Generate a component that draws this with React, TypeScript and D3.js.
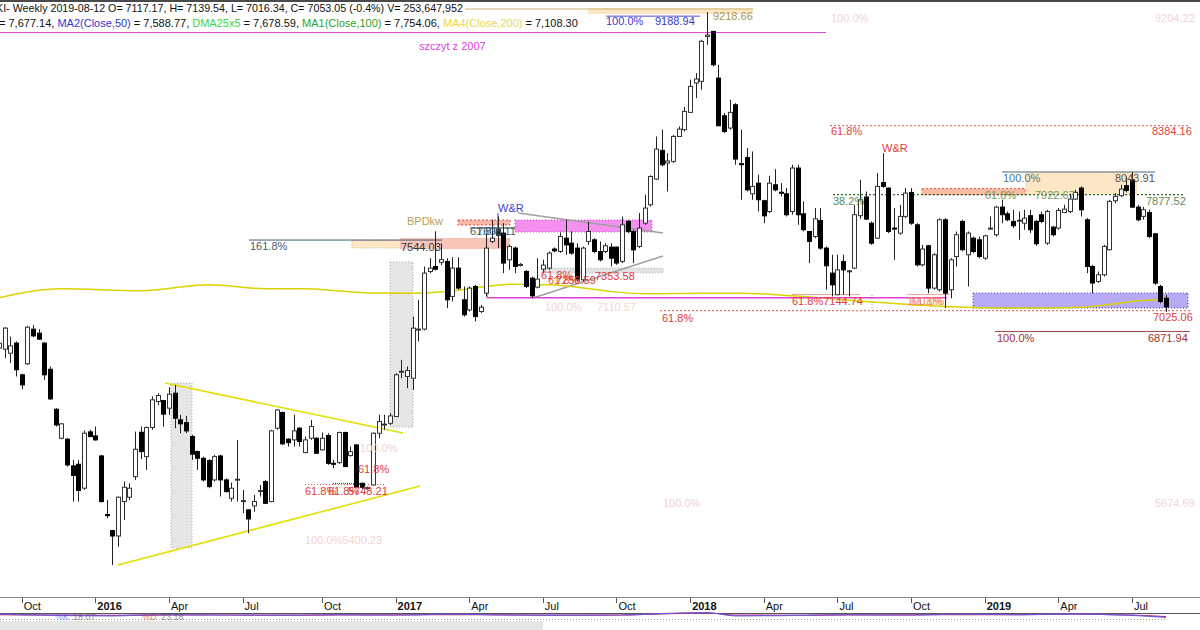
import React from 'react';
import * as d3 from 'd3';

// ---------- DATA (weekly bars, oldest first; first bar week of 2015-08-31, last 2019-08-12) ----------
const FIRST_WEEK = Date.UTC(2015, 7, 31);

const opens = [
  6750, 6742, 6713, 6787, 6554, 6635, 6889, 6860, 6787, 6595,
  6301, 6088, 6081, 5885, 5897, 5721, 6135, 6105, 5958, 5527,
  5410, 5370, 5623, 5655, 5806, 6132, 5953, 6167, 6358, 6365,
  6309, 6419, 6223, 6203, 6100, 5990, 5941, 5924, 5782, 5958,
  5782, 5647, 5782, 5623, 5562, 5591, 5700, 5770, 5623, 6162,
  6277, 6081, 6076, 6162, 5983, 6088, 6088, 6003, 6108, 5904,
  5909, 6130, 5961, 6039, 5757, 5720, 5745, 6125, 6186, 6198,
  6248, 6574, 6542, 6529, 6885, 6890, 7313, 7350, 7380, 7387,
  7130, 7338, 7105, 7031, 7203, 7019, 7154, 7534, 7620, 7595,
  7399, 7485, 7362, 7313, 7264, 7198, 7330, 7338, 7478, 7460,
  7558, 7521, 7485, 7252, 7534, 7546, 7460, 7460, 7492, 7492,
  7387, 7680, 7607, 7497, 7668, 7803, 7992, 8203, 8110, 8122,
  8305, 8355, 8482, 8698, 8710, 9040, 9077, 8734, 8457, 8367,
  8538, 8105, 8151, 7884, 7962, 7833, 7754, 7950, 7895, 7884,
  7754, 8073, 7737, 7607, 7570, 7688, 7485, 7301, 7142, 7387,
  7313, 7338, 7723, 7860, 7668, 7558, 7967, 7926, 7632, 7595,
  7718, 7894, 7656, 7362, 7502, 7191, 7179, 7693, 7179, 7423,
  7681, 7436, 7558, 7546, 7411, 7628, 7583, 7786, 7737, 7681,
  7686, 7668, 7723, 7681, 7730, 7522, 7639, 7632, 7747, 7754,
  7845, 7926, 7693, 7350, 7240, 7289, 7473, 7833, 7870, 7943,
  7987, 7786, 7718, 7747, 7590, 7203, 7117.17,
];

const highs = [
  6823, 6905, 6836, 6799, 6561, 6914, 6921, 6889, 6795, 6615,
  6309, 6200, 6090, 5929, 5929, 6145, 6150, 6174, 5965, 5635,
  5415, 5660, 5770, 5757, 6137, 6174, 6174, 6395, 6419, 6370,
  6463, 6480, 6260, 6252, 6113, 5998, 5953, 5934, 5966, 5966,
  5794, 5762, 6076, 5708, 5566, 5672, 5745, 5782, 6150, 6301,
  6284, 6088, 6260, 6168, 6100, 6223, 6096, 6130, 6125, 5929,
  6137, 6137, 6027, 6045, 5762, 5733, 6130, 6260, 6260, 6272,
  6566, 6664, 6615, 6982, 7105, 7350, 7411, 7608, 7520, 7411,
  7418, 7418, 7203, 7203, 7215, 7068, 7595, 7693, 7718, 7668,
  7510, 7497, 7375, 7325, 7276, 7411, 7400, 7460, 7490, 7600,
  7693, 7607, 7521, 7497, 7680, 7558, 7534, 7521, 7521, 7497,
  7717, 7693, 7620, 7742, 7877, 8020, 8305, 8355, 8183, 8318,
  8379, 8521, 8722, 8771, 9016, 9218.66, 9080, 8832, 8477, 8575,
  8550, 8355, 8220, 8195, 8024, 7840, 8016, 8065, 7962, 7926,
  8097, 8097, 7828, 7607, 7779, 7779, 7497, 7436, 7436, 7436,
  7325, 7803, 7987, 7901, 7680, 8036, 8183, 7930, 7779, 7803,
  7926, 7926, 7668, 7509, 7509, 7448, 7705, 7705, 7411, 7607,
  7693, 7607, 7570, 7570, 7583, 7717, 7796, 7840, 7754, 7766,
  7754, 7766, 7766, 7693, 7754, 7766, 7649, 7779, 7803, 7884,
  7913, 7938, 7705, 7362, 7313, 7509, 7840, 7889, 7950, 8011,
  8044, 7803, 7787, 7767, 7595, 7215, 7139.54,
];

const lows = [
  6627, 6676, 6640, 6542, 6448, 6627, 6831, 6811, 6517, 6370,
  6174, 6080, 5880, 5623, 5623, 5708, 6096, 6070, 5615, 5500,
  5157, 5292, 5488, 5635, 5782, 5934, 5855, 6150, 6333, 6174,
  6260, 6162, 6125, 6125, 5929, 5855, 5770, 5721, 5770, 5660,
  5689, 5623, 5623, 5537, 5390, 5549, 5660, 5606, 5618, 6150,
  6039, 6027, 6027, 6027, 5978, 6076, 5973, 5998, 5892, 5868,
  5900, 5875, 5953, 5720, 5715, 5708, 5740, 6088, 6150, 6186,
  6243, 6529, 6456, 6443, 6799, 6880, 7301, 7320, 7360, 7044,
  7093, 7178, 6982, 7019, 6946, 7007, 7130, 7522, 7485, 7301,
  7325, 7301, 7350, 7191, 7117, 7190, 7300, 7325, 7455, 7450,
  7436, 7436, 7240, 7240, 7509, 7448, 7387, 7448, 7350, 7362,
  7375, 7595, 7375, 7485, 7656, 7790, 7987, 8085, 7901, 8110,
  8301, 8342, 8477, 8587, 8648, 8979, 8820, 8379, 8330, 8355,
  8097, 7840, 7901, 7840, 7754, 7668, 7742, 7901, 7865, 7717,
  7730, 7656, 7607, 7375, 7558, 7472, 7179, 7130, 7142, 7142,
  7130, 7330, 7700, 7693, 7509, 7551, 7926, 7595, 7399, 7583,
  7705, 7656, 7350, 7350, 7154, 7179, 7166, 7044, 7117, 7350,
  7460, 7203, 7448, 7411, 7399, 7620, 7570, 7668, 7681, 7632,
  7546, 7620, 7595, 7502, 7668, 7509, 7570, 7620, 7742, 7742,
  7840, 7717, 7301, 7154, 7228, 7276, 7468, 7815, 7860, 7894,
  7779, 7681, 7693, 7558, 7215, 7080, 7016.34,
];

const closes = [
  6786, 6897, 6767, 6591, 6480, 6904, 6840, 6816, 6554, 6377,
  6186, 6194, 5892, 5814, 5704, 6125, 6100, 6076, 5623, 5520,
  5370, 5655, 5728, 5721, 6007, 5990, 6167, 6370, 6402, 6265,
  6412, 6235, 6194, 6142, 5971, 5941, 5782, 5733, 5953, 5782,
  5696, 5721, 5787, 5630, 5495, 5623, 5704, 5610, 6142, 6296,
  6047, 6056, 6142, 6064, 6076, 6174, 5978, 6088, 5904, 5900,
  6130, 5880, 5990, 5728, 5728, 5725, 6125, 6211, 6192, 6252,
  6554, 6580, 6586, 6897, 6890, 7301, 7338, 7330, 7400, 7105,
  7338, 7191, 6995, 7191, 6982, 7051, 7485, 7558, 7580, 7375,
  7497, 7350, 7365, 7203, 7134, 7257, 7360, 7448, 7465, 7570,
  7509, 7448, 7252, 7485, 7607, 7460, 7399, 7502, 7411, 7375,
  7656, 7607, 7472, 7632, 7779, 8011, 8212, 8097, 8125, 8305,
  8359, 8489, 8673, 8727, 9004, 9050, 8832, 8384, 8342, 8482,
  8139, 8100, 7913, 7938, 7840, 7722, 7962, 7913, 7893, 7730,
  8073, 7730, 7620, 7534, 7700, 7485, 7355, 7215, 7325, 7325,
  7318, 7730, 7840, 7698, 7521, 7938, 7938, 7607, 7628, 7718,
  7889, 7668, 7362, 7478, 7191, 7436, 7693, 7154, 7399, 7583,
  7473, 7595, 7460, 7423, 7575, 7632, 7786, 7730, 7693, 7649,
  7690, 7705, 7620, 7517, 7681, 7754, 7583, 7762, 7771, 7845,
  7894, 7766, 7350, 7228, 7289, 7497, 7828, 7865, 7918, 7909,
  7786, 7693, 7767, 7570, 7228, 7093, 7053.05,
];

// MA4(Close,200) values (bar index, value)
const maIndex = [0, 11, 25, 37, 47, 54, 65, 74, 79, 91, 97, 101, 108, 114, 124, 131, 140, 153, 161, 167, 179, 191, 197, 200, 206];
const maValue = [7120, 7186, 7171, 7215, 7186, 7186, 7156, 7153, 7166, 7220, 7215, 7203, 7166, 7149, 7154, 7154, 7134, 7093, 7068, 7056, 7044, 7051, 7076, 7093, 7108.30];

// lower stochastic panel (bar index, %K, %D)
const stIndex = [0, 10, 20, 30, 40, 50, 60, 70, 80, 90, 100, 110, 120, 125, 130, 140, 150, 160, 170, 180, 190, 200, 206];
const stK = [60, 45, 40, 55, 50, 45, 55, 50, 60, 50, 45, 50, 75, 80, 40, 45, 55, 50, 60, 55, 65, 45, 20];
const stD = [55, 50, 45, 50, 50, 48, 50, 52, 55, 52, 48, 50, 70, 75, 50, 45, 50, 52, 55, 55, 60, 50, 30];

const MONTHS = ['Jan', 'Feb', 'Mar', 'Apr', 'May', 'Jun', 'Jul', 'Aug', 'Sep', 'Oct', 'Nov', 'Dec'];

const FONT = 'Liberation Sans, Arial, sans-serif';

export default function App() {
  const W = 1200;
  const H = 630;
  const n = closes.length;
  const STEP = 5.665;
  const X_LAST = 1166;
  const x = d3.scaleLinear().domain([0, n - 1]).range([X_LAST - (n - 1) * STEP, X_LAST]);
  const y = d3.scaleLinear().domain([7025.06, 8384.16]).range([310.7, 125.7]);
  const DAY = 86400000;
  const dates = d3.range(n).map((i) => new Date(FIRST_WEEK + i * 7 * DAY));

  // quarter ticks: first bar whose Friday falls into a new quarter month
  const ticks: { i: number; label: string; bold: boolean }[] = [];
  for (let i = 1; i < n; i++) {
    const f = new Date(dates[i].getTime() + 4 * DAY);
    const pf = new Date(dates[i - 1].getTime() + 4 * DAY);
    const m = f.getUTCMonth();
    if (m !== pf.getUTCMonth() && m % 3 === 0) {
      ticks.push({ i, label: m === 0 ? String(f.getUTCFullYear()) : MONTHS[m], bold: m === 0 });
    }
  }

  const maLine = d3
    .line<number>()
    .x((d, k) => x(maIndex[k]))
    .y((d) => y(d))
    .curve(d3.curveMonotoneX)(maValue) as string;

  const sy = d3.scaleLinear().domain([0, 100]).range([619, 611]);
  const kLine = d3.line<number>().x((d, k) => x(stIndex[k])).y((d) => sy(d)).curve(d3.curveMonotoneX)(stK) as string;
  const dLine = d3.line<number>().x((d, k) => x(stIndex[k])).y((d) => sy(d)).curve(d3.curveMonotoneX)(stD) as string;

  const bw = 4;
  const faint = '#f3d3d3';
  const red = '#e23b3b';

  return (
    <svg width={W} height={H} style={{ position: 'absolute', left: 0, top: 0, background: '#fff' }} fontFamily={FONT}>
      <defs>
        <clipPath id="plot">
          <rect x={0} y={0} width={W} height={597} />
        </clipPath>
      </defs>
      <rect x={0} y={0} width={W} height={H} fill="#fff" />
      <rect x={0} y={0} width={W} height={2} fill="#4a4a4a" />

      {/* background zones */}
      <rect x={171} y={383} width={21} height={165} fill="#e6e6e6" stroke="#aaa" strokeDasharray="1,2" />
      <rect x={390} y={262} width={23} height={165} fill="#e6e6e6" stroke="#aaa" strokeDasharray="1,2" />
      <rect x={588} y={8} width={165} height={6} fill="#fde7c2" />
      <line x1={465} x2={753} y1={9} y2={9} stroke="#c9b27a" strokeWidth={1} />
      <rect x={352} y={240} width={50} height={8} fill="#fde6c8" stroke="#e8b070" strokeDasharray="1,2" />
      <rect x={400} y={238} width={110} height={11} fill="#f9c4b8" />
      <rect x={458} y={220} width={52} height={5} fill="#f8b6a6" stroke="#e05050" strokeDasharray="2,2" />
      <rect x={515} y={220} width={137} height={12} fill="#f390f0" stroke="#c040c0" strokeDasharray="1,2" />
      <rect x={543} y={y(7353.58) + 2} width={120} height={5} fill="#e2e2e2" stroke="#bbb" strokeDasharray="1,2" />
      <rect x={1025} y={y(8043.91)} width={112} height={y(7877.52) - y(8043.91)} fill="#fde6c3" />
      <rect x={922} y={y(7922.67)} width={103} height={y(7877.52) - y(7922.67)} fill="#f8bca4" stroke="#e06060" strokeDasharray="2,2" />
      <rect x={973} y={293} width={215} height={15} fill="#b8aaf6" stroke="#4040a0" strokeDasharray="1,2" />

      {/* fib / level lines */}
      <line x1={0} x2={826} y1={32.5} y2={32.5} stroke="#e048d8" strokeWidth={1.2} />
      <line x1={606} x2={700} y1={y(9188.94)} y2={y(9188.94)} stroke="#5050d0" strokeWidth={1} />
      <line x1={830} x2={1190} y1={y(8384.16)} y2={y(8384.16)} stroke="#e05050" strokeDasharray="2,2" />
      <line x1={1002} x2={1155} y1={y(8043.91)} y2={y(8043.91)} stroke="#4a6a7a" />
      <line x1={833} x2={1183} y1={y(7877.52)} y2={y(7877.52)} stroke="#2a6a2a" strokeWidth={1.3} strokeDasharray="2,2" />
      <line x1={660} x2={1190} y1={y(7025.06)} y2={y(7025.06)} stroke="#e05050" strokeDasharray="2,2" />
      <line x1={995} x2={1190} y1={y(6871.94)} y2={y(6871.94)} stroke="#a84848" />
      <line x1={249} x2={442} y1={y(7544.03)} y2={y(7544.03)} stroke="#3f5f6f" />
      <line x1={470} x2={515} y1={228} y2={228} stroke="#333" />
      <line x1={498} x2={498} y1={213} y2={228} stroke="#4040d0" />
      <line x1={792} x2={860} y1={y(7144.74)} y2={y(7144.74)} stroke="#f0a090" />
      <line x1={907} x2={950} y1={y(7144.74)} y2={y(7144.74)} stroke="#f0a090" />
      <line x1={305} x2={385} y1={y(5748.21)} y2={y(5748.21)} stroke="#e05050" strokeDasharray="1,2" />
      <line x1={333} x2={365} y1={y(5748.21) - 1} y2={y(5748.21) - 1} stroke="#4040d0" strokeDasharray="1,1" />
      <line x1={872} x2={872} y1={295} y2={311} stroke="#999" strokeDasharray="1,2" />

      {/* trend lines */}
      <line x1={165} y1={383} x2={403} y2={433} stroke="#e2e000" strokeWidth={1.6} />
      <line x1={118} y1={565} x2={420} y2={486} stroke="#e2e000" strokeWidth={1.6} />
      <line x1={518} y1={213} x2={663} y2={233} stroke="#a0a0a0" strokeWidth={1.5} />
      <line x1={533} y1={298} x2={663} y2={256} stroke="#a0a0a0" strokeWidth={1.5} />

      {/* MA200 */}
      <path d={maLine} fill="none" stroke="#d8d400" strokeWidth={1.5} clipPath="url(#plot)" />

      {/* magenta support */}
      <line x1={487} x2={947} y1={297.7} y2={297.7} stroke="#e040d0" strokeWidth={1.6} />
      <line x1={487} x2={487} y1={290} y2={298} stroke="#e040d0" strokeWidth={1.2} />

      {/* candles */}
      <g clipPath="url(#plot)">
        {closes.map((c, i) => {
          const o = opens[i];
          const cx = Math.round(x(i)) + 0.5;
          const up = c >= o;
          const top = y(Math.max(o, c));
          const bot = y(Math.min(o, c));
          const h = Math.max(1, bot - top);
          return (
            <g key={i}>
              <line x1={cx} x2={cx} y1={y(highs[i])} y2={y(lows[i])} stroke="#222" strokeWidth={1} />
              <rect
                x={cx - bw / 2}
                y={top}
                width={bw}
                height={h}
                fill={up ? '#fff' : '#000'}
                stroke={up ? '#333' : '#000'}
                strokeWidth={1}
              />
            </g>
          );
        })}
      </g>

      {/* header */}
      <text x={-4} y={12} fontSize={10.7} fill="#111">
        KI- Weekly 2019-08-12 O= 7117.17, H= 7139.54, L= 7016.34, C= 7053.05 (-0.4%) V= 253,647,952
      </text>
      <text x={-1} y={27} fontSize={11} fill="#111">
        <tspan>= 7,677.14, </tspan>
        <tspan fill="#3434d4">MA2(Close,50)</tspan>
        <tspan> = 7,588.77, </tspan>
        <tspan fill="#3ed43e">DMA25x5</tspan>
        <tspan> = 7,678.59, </tspan>
        <tspan fill="#2f9f2f">MA1(Close,100)</tspan>
        <tspan> = 7,754.06, </tspan>
        <tspan fill="#e8d84a">MA4(Close,200)</tspan>
        <tspan> = 7,108.30</tspan>
      </text>

      {/* annotation labels */}
      <g fontSize={11}>
        <text x={419} y={50} fill="#e040e0">szczyt z 2007</text>
        <text x={606} y={25} fill="#3a3ac8">100.0%</text>
        <text x={655} y={25} fill="#3a3ac8">9188.94</text>
        <text x={713} y={20} fill="#a89a50">9218.66</text>
        <text x={831} y={22} fill={faint}>100.0%</text>
        <text x={1155} y={22} fill={faint}>9204.22</text>
        <text x={831} y={135} fill={red}>61.8%</text>
        <text x={1152} y={135} fill={red}>8384.16</text>
        <text x={882} y={152} fill={red}>W&amp;R</text>
        <text x={1003} y={182} fill="#4a7a8a">100.0%</text>
        <text x={1115} y={182} fill="#555">8043.91</text>
        <text x={985} y={199} fill="#7a9a5a">61.8%</text>
        <text x={1035} y={199} fill="#7a9a5a">7922.67</text>
        <text x={833} y={205} fill="#5a8a5a">38.2%</text>
        <text x={1146} y={205} fill="#5a8a5a">7877.52</text>
        <text x={792} y={305} fill={red}>61.8%7144.74</text>
        <text x={907} y={305} fill="#f08a50">100.0%</text>
        <text x={911} y={305} fill="#f07050" opacity={0.7}>61.8%</text>
        <text x={662} y={322} fill={red}>61.8%</text>
        <text x={1153} y={321} fill={red}>7025.06</text>
        <text x={997} y={342} fill="#a03030">100.0%</text>
        <text x={1148} y={342} fill="#a03030">6871.94</text>
        <text x={250} y={250} fill="#3f5f6f">161.8%</text>
        <text x={401} y={251} fill="#333">7544.03</text>
        <text x={407} y={225} fill="#b8a050">BPDkw</text>
        <text x={470} y={235} fill="#3f5f6f">61.8%</text>
        <text x={477} y={235} fill="#3f5f6f">7608.11</text>
        <text x={498} y={212} fill="#4040d0">W&amp;R</text>
        <text x={541} y={279} fill={red}>61.8%</text>
        <text x={548} y={284} fill="#e06040">61.8%</text>
        <text x={556} y={284} fill={red}>7250.59</text>
        <text x={595} y={280} fill={red}>7353.58</text>
        <text x={545} y={311} fill={faint}>100.0%</text>
        <text x={597} y={311} fill={faint}>7110.57</text>
        <text x={358} y={473} fill={red}>61.8%</text>
        <text x={305} y={495} fill={red}>61.8%</text>
        <text x={328} y={495} fill={red}>61.8%</text>
        <text x={348} y={495} fill={red}>5748.21</text>
        <text x={360} y={452} fill={faint}>100.0%</text>
        <text x={305} y={544} fill={faint}>100.0%5400.23</text>
        <text x={663} y={507} fill={faint}>100.0%</text>
        <text x={1155} y={507} fill={faint}>5674.69</text>
      </g>

      {/* time axis */}
      <line x1={0} x2={W} y1={597.5} y2={597.5} stroke="#8a8a8a" />
      {ticks.map((t) => (
        <g key={t.i}>
          <line x1={Math.round(x(t.i)) + 0.5} x2={Math.round(x(t.i)) + 0.5} y1={598} y2={603} stroke="#555" />
          <text x={x(t.i) + 2} y={610} fontSize={11} fontWeight={t.bold ? 'bold' : 'normal'} fill="#111">
            {t.label}
          </text>
        </g>
      ))}
      <line x1={0} x2={W} y1={613.5} y2={613.5} stroke="#555" />

      {/* lower indicator panel */}
      <rect x={0} y={621} width={543} height={9} fill="#e6e6e6" />
      <line x1={0} x2={1165} y1={619.5} y2={619.5} stroke="#999" strokeDasharray="1,2" />
      <path d={dLine} fill="none" stroke="#d02060" strokeWidth={1.2} />
      <path d={kLine} fill="none" stroke="#6a5ad8" strokeWidth={1.2} />
      <g fontSize={9} opacity={0.55}>
        <text x={55} y={620} fill="#4040d0">%K</text>
        <text x={73} y={620} fill="#444">18.07</text>
        <text x={142} y={620} fill="#d02020">%D</text>
        <text x={161} y={620} fill="#444">23.18</text>
      </g>
    </svg>
  );
}
